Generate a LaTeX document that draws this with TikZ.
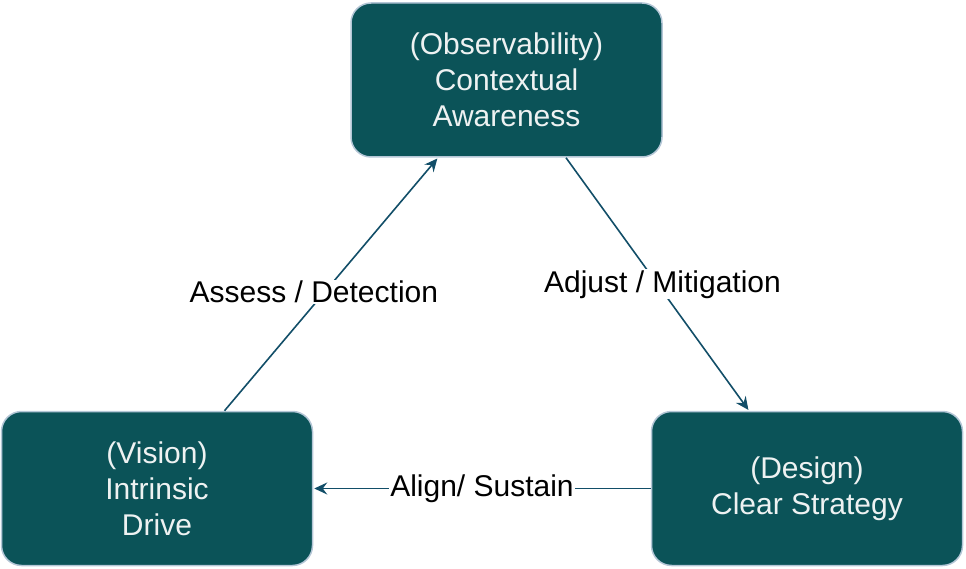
\documentclass[tikz,border=0pt]{standalone}
\usepackage{fontspec}
\setmainfont{Liberation Sans}
\usepackage{xcolor}
\usetikzlibrary{positioning,arrows.meta}

\definecolor{boxteal}{HTML}{0B5358}
\definecolor{boxedge}{HTML}{B4C6D6}
\definecolor{boxtext}{HTML}{EEF2F2}
\definecolor{arrowblue}{HTML}{124E68}

\begin{document}
\begin{tikzpicture}[>={Stealth[length=13pt,width=12pt,inset=4.5pt]},shorten >=1pt,
    main node/.style={rectangle,rounded corners=20pt,draw=boxedge,line width=1.5pt,fill=boxteal,text=boxtext,minimum width=311pt,minimum height=154pt,align=center,font=\fontsize{30}{36}\selectfont},
    flow/.style={->,draw=arrowblue,line width=1.6pt},
    edge label/.style={fill=white,text=black,inner sep=1pt,font=\fontsize{30}{36}\selectfont}]

            \useasboundingbox (0,0) rectangle (966pt,-569pt);

            \node[main node] (obs) at (506.5pt,-80pt) {(Observability)\\Contextual\\Awareness};
            \node[main node] (vision) [below left=253pt and 37pt of obs] {(Vision)\\Intrinsic\\Drive};
            \node[main node] (design) [below right=253pt and -12pt of obs] {(Design)\\Clear Strategy};

            \draw[flow] ([xshift=67.5pt]vision.north) to node[edge label,pos=0.47,xshift=-11pt] {Assess / Detection} ([xshift=-68.5pt]obs.south);
            \draw[flow] ([xshift=59.5pt]obs.south) to node[edge label,pos=0.5,xshift=5pt] {Adjust / Mitigation} ([xshift=-58pt]design.north);
            \draw[flow] (design.west) to node[edge label,pos=0.5] {Align/ Sustain} (vision.east);

        \end{tikzpicture}
\end{document}
